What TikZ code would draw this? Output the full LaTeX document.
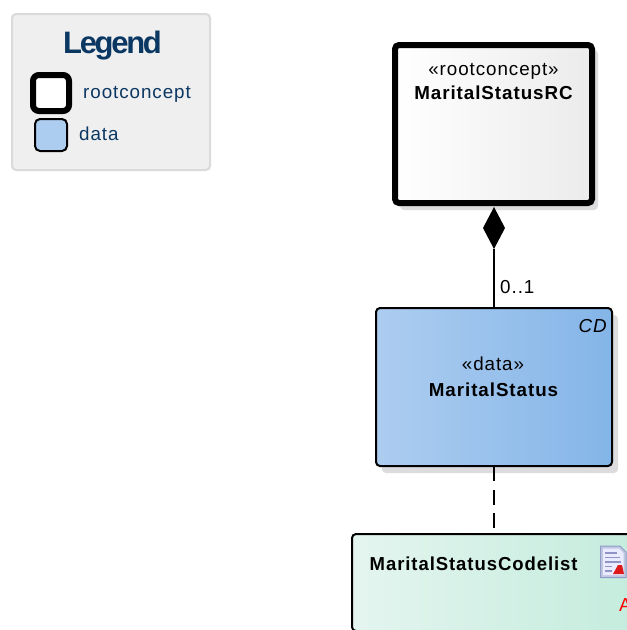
\documentclass[tikz,border=0pt]{standalone}
\usepackage{fontspec}
\setmainfont[LetterSpace=5]{Liberation Sans}
\newfontfamily\titlefont[LetterSpace=-7.5]{Liberation Sans}
\usetikzlibrary{shapes.geometric}
\definecolor{navy}{HTML}{0B3763}
\definecolor{legfill}{HTML}{EFEFEF}
\definecolor{legline}{HTML}{DADADA}
\definecolor{shadowc}{HTML}{DCDCDE}
\definecolor{dataA}{HTML}{ADCDF0}
\definecolor{dataB}{HTML}{84B5E8}
\definecolor{codeA}{HTML}{E4F5EF}
\definecolor{codeB}{HTML}{C4ECDD}
\definecolor{rcB}{HTML}{EBEBEB}
\definecolor{iconedge}{HTML}{8F9CC8}
\definecolor{iconline}{HTML}{8F94C4}
\tikzset{
 box/.style={draw=black,rounded corners=4pt,inner sep=0pt,outer sep=0pt,anchor=north west},
 lab/.style={inner sep=0pt,anchor=base,text=black,font=\fontsize{18.8}{20}\selectfont},
 labbold/.style={lab,font=\fontsize{18.8}{20}\bfseries\selectfont},
 leglab/.style={inner sep=0pt,anchor=base west,text=navy,font=\fontsize{18.8}{20}\selectfont},
 shadowbox/.style={fill=shadowc,rounded corners=4pt}
}
\begin{document}
\begin{tikzpicture}[x=1pt,y=-1pt]
\useasboundingbox (0,0) rectangle (627,630);
\clip (0,0) rectangle (627,630);
\fill[white] (0,0) rectangle (627,630);
% legend
\node[box,draw=legline,fill=legfill,line width=2pt,minimum width=198pt,minimum height=156pt] (legend) at (12,14) {};
\node[inner sep=0pt,anchor=base,text=navy,font=\titlefont\fontsize{31}{34}\bfseries\selectfont] (legtitle) at (112.5,53) {Legend};
\node[box,fill=white,line width=6pt,rounded corners=6pt,minimum width=36pt,minimum height=36pt] (legrc) at (33,75) {};
\node[box,fill=dataA,line width=2pt,rounded corners=5pt,minimum width=32pt,minimum height=32pt] (legdata) at (35,119) {};
\node[leglab] (legrct) at (83,98) {rootconcept};
\node[leglab] (legdt) at (79,140) {data};
% shadows
\fill[shadowbox] (400,50) rectangle (598,210);
\fill[shadowbox] (382,315) rectangle (618,473);
% boxes
\node[box,line width=6pt,left color=white,right color=rcB,minimum width=197pt,minimum height=158pt] (rc) at (395,45) {};
\node[box,line width=2pt,left color=dataA,right color=dataB,minimum width=236pt,minimum height=158pt] (data) at (376,308) {};
\node[box,line width=2pt,left color=codeA,right color=codeB,minimum width=286pt,minimum height=97pt] (code) at (352,534) {};
% texts
\node[lab] (rcs) at (493.5,75) {«rootconcept»};
\node[labbold] (rcn) at (493.5,99) {MaritalStatusRC};
\node[lab,anchor=base east,font=\fontsize{18.8}{20}\itshape\selectfont] (cd) at (607,332) {CD};
\node[lab] (ds) at (493,370) {«data»};
\node[labbold] (dn) at (493.5,396) {MaritalStatus};
\node[labbold,anchor=base west,xscale=.985] (cn) at (369.5,570) {MaritalStatusCodelist};
\node[lab,anchor=base west,text=red] (ca) at (619,611) {A};
% document icon
\fill[fill=iconedge!55!white,draw=iconedge,line width=1pt] (600.5,546) -- (620,546) -- (626,552) -- (626,577.5) -- (600.5,577.5) -- cycle;
\fill[white!92!blue] (603,548.5) -- (619,548.5) -- (623.5,553) -- (623.5,575) -- (603,575) -- cycle;
\foreach \y/\e in {553/617,557.5/620,562/621,566.5/612,571/612}
  \draw[iconline,line width=1.5pt] (605,\y) -- (\e,\y);
\fill[red!85!black!90!white] (613,574) -- (618,565) -- (622,565) -- (624,574) -- cycle;
% connectors
\node[diamond,fill=black,inner sep=0pt,outer sep=0pt,minimum width=22pt,minimum height=42pt,aspect=.5,anchor=north] (dia) at (494,207) {};
\draw[line width=2pt] (dia.south) -- (data.north -| dia.south);
\node[lab,anchor=base west] (mult) at (500,293) {0..1};
\draw[line width=2pt,dash pattern=on 15pt off 8.5pt] (data.south -| dia.south) -- (dia.south |- code.north);
\end{tikzpicture}
\end{document}
